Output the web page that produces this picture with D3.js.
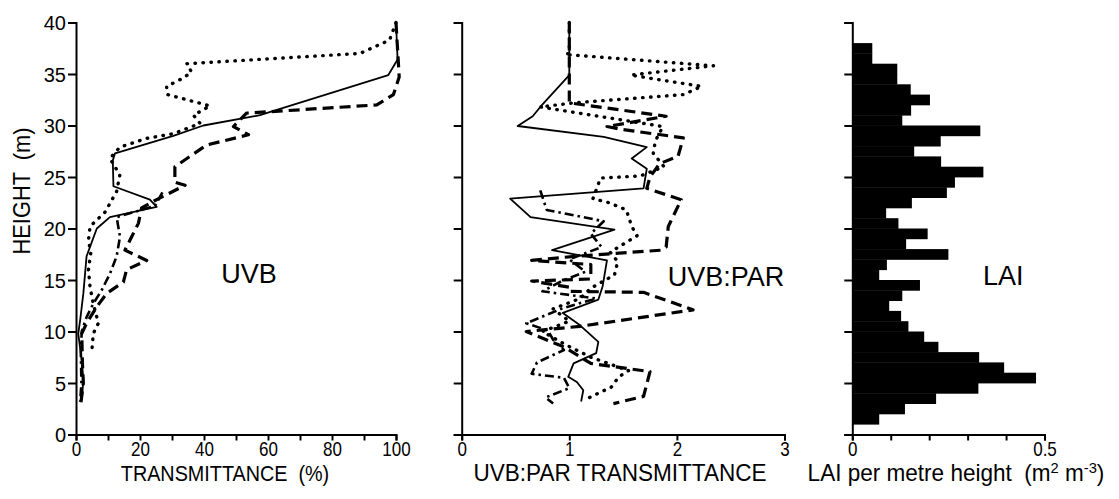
<!doctype html>
<html>
<head>
<meta charset="utf-8">
<style>
    body { margin: 0; background: #fff; }
    svg text { font-family: "Liberation Sans", Arial, sans-serif; fill: #000; }
    .axis path, .axis line { stroke: #000; stroke-width: 2; }
    .axis text { font-size: 20px; }
    .tag { font-size: 27px; }
    .ln { fill: none; stroke: #000; stroke-linejoin: round; }
    .solid { stroke-width: 1.8; }
    .dotted { stroke-width: 3.4; stroke-dasharray: 0.5 7.5; stroke-linecap: round; }
    .dashed { stroke-width: 3.2; stroke-dasharray: 11 6; }
    .dashdot { stroke-width: 2.6; stroke-dasharray: 9 4 2.5 4; }
</style>
<script src="https://cdn.jsdelivr.net/npm/d3@7"></script>
</head>
<body>
<svg width="1119" height="499"></svg>
<script>
// [height (m), value]
var uvbSolid = [[40,100],[36.4,100.5],[34.9,97.6],[31,57.5],[30,39.8],[29,30.4],[27.3,12.2],[26.6,11.5],
    [24.1,11.7],[22.8,23.1],[22.1,25.2],[21.1,10.6],[20,6.5],[17.3,3.3],[13.7,2.3],[11.1,1.3],[9.8,0.7],
    [7.2,1.8],[5.3,2.3],[3.3,1.8]];
var uvbDotted = [[40,100],[38.3,98],[37,88.8],[36,34.6],[35.2,36.1],[34.6,33.5],[33.8,28.3],[33,28.6],
    [31.9,41.9],[31,36.7],[30.2,38.8],[29.2,30.4],[28.75,22.1],[27.9,13.7],[26.8,10.6],[25.2,13.7],
    [23.6,12.7],[21.6,9.1],[20.2,4.4],[18.9,3.9],[17.6,4.6],[16,3.9],[14.3,4.4],[12.7,5.4],[10.8,7],
    [9.8,5.4],[7.9,4.9]];
var uvbDashed = [[40,100],[34.7,101],[33,99.2],[32,94],[31.2,53.3],[29.9,49.2],[29.1,53.9],[28.1,40.8],
    [26,30.9],[24.5,30.9],[24.2,34.1],[22.8,25.2],[22,20.5],[20.5,19.5],[19.2,17.4],[17.9,15.3],
    [16.9,22.1],[16,15.8],[14.8,14.8],[13.7,9.6],[12.4,6.5],[10.8,3.3],[9.8,1.8],[7,2],[5,2.3],[3,1.5]];
var uvbDashDot = [[23.5,27],[22.2,24.7],[21.1,12.7],[19.2,13.75],[17.3,12.7],[15.6,10.6],[14,8],
    [12.7,5.4],[11.4,3.3],[10,1.8],[8,1.5],[5,1.7],[3.2,1.3]];

var ratioSolid = [[40,1],[34.9,1],[31.8,0.73],[30.9,0.66],[29.95,0.52],[28.9,1.32],[27.9,1.72],
    [26.8,1.58],[25.8,1.72],[23.9,1.69],[22.9,0.45],[21.1,0.64],[19.9,1.42],[17.9,0.84],[16.9,1.35],
    [14.4,1.31],[13.1,1.27],[11.8,0.94],[10.6,1.1],[9,1.27],[7.9,1.25],[6.9,1.04],[5.6,0.99],
    [5.1,1.07],[4.3,1.13],[3.2,1.11]];
var ratioDotted = [[40,1],[37,1],[36.9,0.96],[35.8,2.34],[34.9,1.57],[34.5,1.8],[33.8,2.23],[33,2.06],
    [32.2,1.04],[31.8,0.73],[29.9,1.87],[28.5,1.8],[27.3,1.78],[26,1.88],[25.1,1.66],[24.9,1.29],
    [22.9,1.22],[22.5,1.37],[21.8,1.53],[20.2,1.58],[19.3,1.63],[17.7,1.38],[16.8,1.45],[15.5,1.42],
    [14.2,1.2],[13.2,1.1],[12.2,0.85],[11,1],[10,0.75],[8.8,0.95],[7.5,1.2],[6.2,1.55],[5.6,1.46],
    [4.6,1.39],[3.3,1.13]];
var ratioDashed = [[40,1],[32.2,1],[30.9,1.9],[29.9,1.35],[29.6,1.5],[28.8,2.06],[27,2.01],[26.3,1.84],
    [25,1.75],[23.9,1.72],[22.8,2.04],[20.2,1.92],[18.2,1.9],[17.9,1.86],[17.3,1.05],[16.9,0.65],
    [16.5,1.2],[15.1,1.2],[14.9,0.65],[14.3,1],[13.9,1],[13.8,1.69],[12.1,2.15],[10.5,1.1],[10,0.6],
    [8.5,0.95],[6.9,1.2],[6.1,1.75],[3.7,1.69],[3,1.41]];
var ratioDashDot = [[23.7,0.73],[21.8,0.79],[20.7,1.32],[19.5,1.2],[18.2,1.3],[17,1],[15.8,1.15],
    [15,0.95],[13.9,0.75],[13.2,1.25],[12.3,0.95],[10.8,0.6],[10.1,0.8],[9.2,0.85],[8.2,0.95],
    [7,0.7],[5.9,0.65],[5.5,0.95],[4.5,1],[3.6,0.78],[3,0.85]];

// LAI per 1 m layer, from 0-1 m up to 39-40 m
var laiBase = d3.range(0, 40);
var laiValue = [0, 0.07, 0.137, 0.218, 0.328, 0.478, 0.395, 0.33, 0.224, 0.187, 0.146, 0.127, 0.096,
    0.13, 0.176, 0.07, 0.09, 0.25, 0.14, 0.196, 0.12, 0.088, 0.155, 0.246, 0.267, 0.341, 0.231, 0.161,
    0.23, 0.333, 0.13, 0.153, 0.202, 0.152, 0.117, 0.117, 0.052, 0.052, 0, 0];

var uvbTicks = [0, 20, 40, 60, 80, 100];
var ratioTicks = [0, 1, 2, 3];
var laiTicks = [0, 0.5];
var heightTicks = [0, 5, 10, 15, 20, 25, 30, 35, 40];

var svg = d3.select("svg");

var y = d3.scaleLinear().domain([0, 40]).range([434.5, 22.5]);
var x1 = d3.scaleLinear().domain([0, 100]).range([76, 396]);
var x2 = d3.scaleLinear().domain([0, 3]).range([461.7, 784.5]);
var x3 = d3.scaleLinear().domain([0, 0.5]).range([852.3, 1044.5]);

function drawAxes(x, ticksMajor, ticksAll, fmt, showY) {
    svg.append("g")
        .attr("class", "axis")
        .attr("transform", "translate(0," + y(0) + ")")
        .call(d3.axisBottom(x).tickValues(ticksAll).tickSizeOuter(0).tickSize(6).tickPadding(1)
            .tickFormat(function(d) { return ticksMajor.indexOf(d) >= 0 ? fmt(d) : ""; }))
        .selectAll("text").attr("transform", "scale(0.85,1)");

    svg.append("g")
        .attr("class", "axis")
        .attr("transform", "translate(" + x.range()[0] + ",0)")
        .call(d3.axisLeft(y).tickValues(heightTicks).tickSizeOuter(0).tickSize(8).tickPadding(2)
            .tickFormat(showY ? d3.format("d") : function() { return ""; }))
        .selectAll("text").attr("dy", "0.36em");
}

drawAxes(x1, uvbTicks, d3.range(0, 101, 10), d3.format("d"), true);
drawAxes(x2, ratioTicks, ratioTicks, d3.format("d"), false);
drawAxes(x3, laiTicks, [0, 0.1, 0.2, 0.3, 0.4, 0.5], function(d) { return d === 0 ? "0" : "0.5"; }, false);

// LAI bars
svg.append("g").selectAll("rect")
    .data(laiBase)
    .enter().append("rect")
    .attr("x", x3(0))
    .attr("y", function(d) { return y(d + 1); })
    .attr("width", function(d, i) { return x3(laiValue[i]) - x3(0); })
    .attr("height", function(d) { return y(d) - y(d + 1) + 0.4; })
    .attr("fill", "#000");

function profile(x, data, cls) {
    var line = d3.line()
        .x(function(d) { return x(d[1]); })
        .y(function(d) { return y(d[0]); });
    svg.append("path").datum(data).attr("class", "ln " + cls).attr("d", line);
}

profile(x1, uvbSolid, "solid");
profile(x1, uvbDotted, "dotted");
profile(x1, uvbDashed, "dashed");
profile(x1, uvbDashDot, "dashdot");

profile(x2, ratioSolid, "solid");
profile(x2, ratioDotted, "dotted");
profile(x2, ratioDashed, "dashed");
profile(x2, ratioDashDot, "dashdot");

// axis titles, slightly condensed like the original lettering
function title(x, yy, size, sx) {
    return svg.append("text")
        .attr("transform", "translate(" + x + "," + yy + ") scale(" + sx + ",1)")
        .attr("font-size", size)
        .attr("text-anchor", "middle")
        .attr("xml:space", "preserve");
}

title(225, 481, 22, 0.9).text("TRANSMITTANCE  (%)");
title(620, 481, 23, 0.98).text("UVB:PAR TRANSMITTANCE");

var t3 = title(956, 481, 23, 0.98);
t3.append("tspan").text("LAI per metre height  (m");
t3.append("tspan").attr("dy", -8).attr("font-size", 15).text("2");
t3.append("tspan").attr("dy", 8).text(" m");
t3.append("tspan").attr("dy", -8).attr("font-size", 15).text("-3");
t3.append("tspan").attr("dy", 8).text(")");

svg.append("text")
    .attr("transform", "translate(30,191) rotate(-90) scale(0.95,1)")
    .attr("font-size", 23)
    .attr("text-anchor", "middle").attr("xml:space", "preserve").text("HEIGHT  (m)");

svg.append("text").attr("class", "tag").attr("x", 249).attr("y", 283).attr("text-anchor", "middle").text("UVB");
svg.append("text").attr("class", "tag").attr("x", 726).attr("y", 286).attr("text-anchor", "middle").text("UVB:PAR");
svg.append("text").attr("class", "tag").attr("x", 983).attr("y", 285).text("LAI");
</script>
</body>
</html>
